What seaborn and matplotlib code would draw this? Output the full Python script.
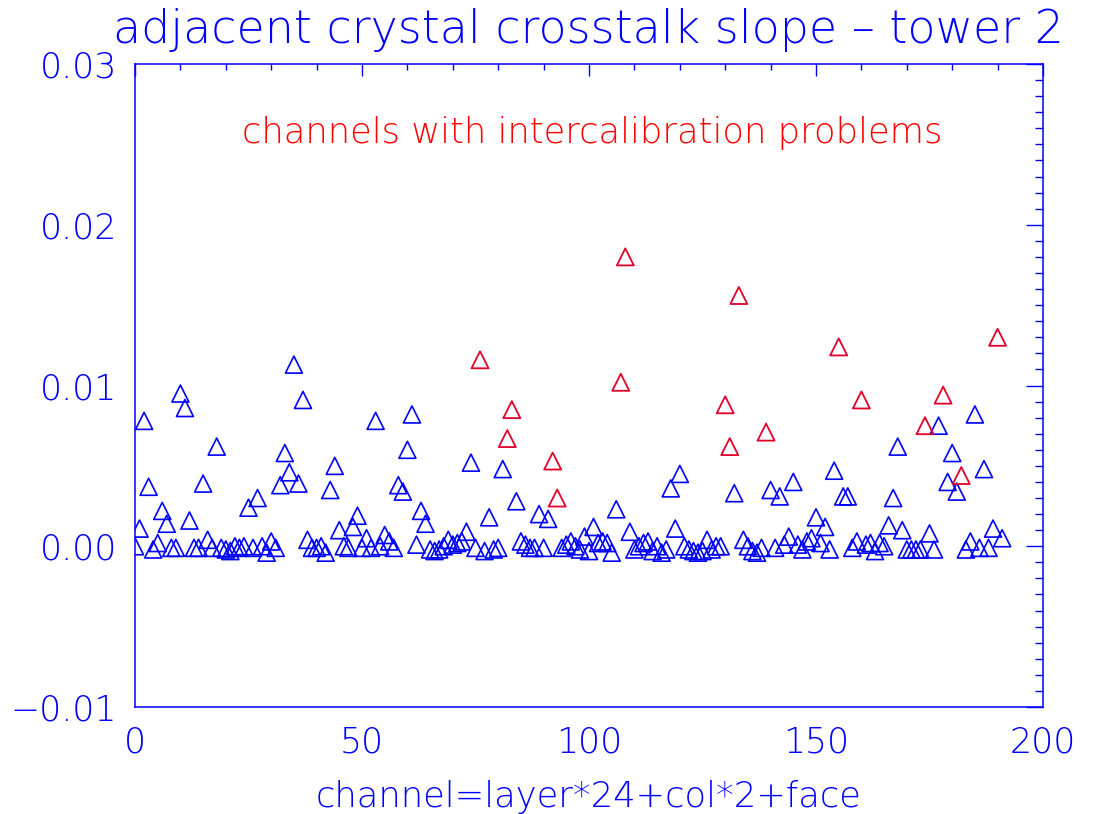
import numpy as np
import pandas as pd
import matplotlib
matplotlib.use("Agg")
import matplotlib.pyplot as plt
import seaborn as sns
from matplotlib.ticker import MultipleLocator, FuncFormatter

# ---- data ----
slope = [
    0.0000, 0.0011, 0.0078, 0.0037, -0.0002, 0.0002, 0.0022, 0.0014, -0.0001, -0.0001,   # 0-9
    0.0095, 0.0086, 0.0016, -0.0001, -0.0001, 0.0039, 0.0004, -0.0001, 0.0062, -0.0001,  # 10-19
    -0.0002, -0.0003, 0.0000, -0.0001, 0.0000, 0.0024, -0.0001, 0.0030, 0.0000, -0.0004,  # 20-29
    0.0003, -0.0001, 0.0038, 0.0058, 0.0046, 0.0113, 0.0039, 0.0091, 0.0004, -0.0001,    # 30-39
    -0.0001, 0.0000, -0.0004, 0.0035, 0.0050, 0.0010, 0.0000, -0.0001, 0.0012, 0.0019,   # 40-49
    -0.0001, 0.0005, -0.0001, 0.0078, 0.0000, 0.0007, 0.0003, -0.0001, 0.0038, 0.0034,   # 50-59
    0.0060, 0.0082, 0.0001, 0.0022, 0.0014, -0.0002, -0.0003, -0.0002, 0.0000, 0.0004,   # 60-69
    0.0001, 0.0002, 0.0003, 0.0009, 0.0052, -0.0001, 0.0116, -0.0003, 0.0018, -0.0002,   # 70-79
    -0.0001, 0.0048, 0.0067, 0.0085, 0.0028, 0.0003, 0.0001, -0.0001, -0.0001, 0.0020,   # 80-89
    -0.0001, 0.0017, 0.0053, 0.0030, -0.0001, 0.0001, 0.0003, 0.0000, -0.0002, 0.0006,   # 90-99
    -0.0003, 0.0012, 0.0002, 0.0003, 0.0002, -0.0004, 0.0023, 0.0102, 0.0180, 0.0009,    # 100-109
    -0.0002, 0.0000, 0.0002, 0.0003, -0.0003, 0.0000, -0.0004, -0.0002, 0.0036, 0.0011,  # 110-119
    0.0045, 0.0000, -0.0002, -0.0003, -0.0004, -0.0003, 0.0004, -0.0002, 0.0000, 0.0000, # 120-129
    0.0088, 0.0062, 0.0033, 0.0156, 0.0004, 0.0000, -0.0003, -0.0004, -0.0001, 0.0071,   # 130-139
    0.0035, -0.0001, 0.0031, 0.0001, 0.0006, 0.0040, 0.0001, -0.0002, 0.0003, 0.0005,    # 140-149
    0.0018, 0.0002, 0.0012, -0.0002, 0.0047, 0.0124, 0.0031, 0.0031, -0.0001, 0.0003,    # 150-159
    0.0091, 0.0001, 0.0002, -0.0003, 0.0002, 0.0000, 0.0013, 0.0030, 0.0062, 0.0010,     # 160-169
    -0.0002, -0.0002, -0.0002, -0.0002, 0.0075, 0.0008, -0.0002, 0.0075, 0.0094, 0.0040, # 170-179
    0.0058, 0.0034, 0.0044, -0.0002, 0.0003, 0.0082, -0.0001, 0.0048, -0.0001, 0.0011,   # 180-189
    0.0130, 0.0005,                                                                      # 190-191
]
channels = list(range(len(slope)))
problem_channels = [76, 82, 83, 92, 93, 107, 108, 130, 131, 133, 139, 155, 160, 174, 178, 182, 190]

title_text = "adjacent crystal crosstalk slope \u2013 tower 2"
xlabel_text = "channel=layer*24+col*2+face"
note_text = "channels with intercalibration problems"

df = pd.DataFrame({"channel": channels, "slope": slope})
df["problem"] = df["channel"].isin(problem_channels)

BLUE = "#0000ff"
RED_MARK = "#e0002a"
RED_TEXT = "#ff0000"

sns.set_style("white")
plt.rcParams["font.family"] = ["DejaVu Sans"]

fig = plt.figure(figsize=(10.97, 8.14), dpi=100)
ax = fig.add_axes([135 / 1097, 1 - 707 / 814, (1043 - 135) / 1097, (707 - 64) / 814])

sns.scatterplot(data=df[~df["problem"]], x="channel", y="slope", marker="^", s=150,
                fc="none", ec=BLUE, linewidth=1.2, ax=ax, legend=False, zorder=3)
sns.scatterplot(data=df[df["problem"]], x="channel", y="slope", marker="^", s=150,
                fc="none", ec=RED_MARK, linewidth=1.3, ax=ax, legend=False, zorder=4)

ax.set_xlim(0, 200)
ax.set_ylim(-0.01, 0.03)
ax.xaxis.set_major_locator(MultipleLocator(50))
ax.xaxis.set_minor_locator(MultipleLocator(10))
ax.yaxis.set_major_locator(MultipleLocator(0.01))
ax.yaxis.set_minor_locator(MultipleLocator(0.001))
ax.yaxis.set_major_formatter(FuncFormatter(lambda v, p: f"{v:.2f}".replace("-", "\u2212")
                                           if abs(v) > 1e-12 else "0.00"))

for sp in ax.spines.values():
    sp.set_color(BLUE)
    sp.set_linewidth(1.1)
    sp.set_visible(True)

ax.tick_params(axis="both", which="both", direction="in", top=True, right=True,
               colors=BLUE, width=1.0, labelcolor=BLUE)
ax.tick_params(axis="x", which="major", length=8.6, pad=13, labelsize=25)
ax.tick_params(axis="x", which="minor", length=4.3)
ax.tick_params(axis="y", which="major", length=12.2, pad=13, labelsize=25)
ax.tick_params(axis="y", which="minor", length=6.1)
for lab in ax.get_xticklabels() + ax.get_yticklabels():
    lab.set_fontweight("light")

ax.set_xlabel("")
ax.set_ylabel("")
fig.text(589 / 1097, 1 - 797 / 814, xlabel_text, ha="center", va="center",
         color=BLUE, fontsize=25.5, fontweight="light")
fig.text(588 / 1097, 1 - 30 / 814, title_text, ha="center", va="center",
         color=BLUE, fontsize=33, fontweight="light")
ax.text(0.504, 0.893, note_text, transform=ax.transAxes, ha="center", va="center",
        color=RED_TEXT, fontsize=25.5, fontweight="light")

fig.savefig("out.png", dpi=100, facecolor="white")
